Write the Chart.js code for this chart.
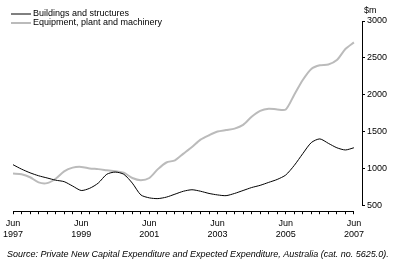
<!DOCTYPE html>
<html>
<head>
<meta charset="utf-8">
<script src="https://cdn.jsdelivr.net/npm/chart.js@4.4.1/dist/chart.umd.min.js"></script>
<style>
  html, body { margin: 0; padding: 0; background: #fff; }
</style>
</head>
<body>
<canvas id="chart" width="397" height="265"></canvas>
<script>
// quarterly, Jun 1997 .. Jun 2007 (index 0..40), $m
const buildings = [1050, 990, 940, 900, 870, 840, 820, 760, 700, 730, 800, 920, 950, 920, 800, 640,
    600, 590, 610, 650, 690, 710, 690, 660, 640, 630, 660, 700, 740, 770, 810, 850,
    910, 1040, 1200, 1350, 1400, 1340, 1280, 1250, 1280];

const equipment = [930, 920, 880, 810, 800, 860, 960, 1010, 1020, 1000, 990, 975, 960, 940, 870, 840,
    870, 990, 1080, 1110, 1200, 1290, 1390, 1450, 1500, 1520, 1540, 1590, 1700, 1780, 1810, 1800,
    1800, 2000, 2200, 2350, 2400, 2410, 2470, 2620, 2710];

const yTicks = [500, 1000, 1500, 2000, 2500, 3000];
const firstYear = 1997;

const seriesNames = ['Buildings and structures', 'Equipment, plant and machinery'];
const seriesData = [buildings, equipment];
const seriesColors = ['#000000', '#bbbbbb'];
const seriesWidths = [1, 2];

const FONT = 'Liberation Sans, Arial, sans-serif';

// legend, "$m" and the two axis lines (they don't meet in the original)
const extras = {
    id: 'extras',
    afterDraw(chart) {
        const ctx = chart.ctx;
        const xs = chart.scales.x, ys = chart.scales.y;
        ctx.save();
        ctx.font = '9px ' + FONT;
        ctx.textBaseline = 'middle';
        ctx.fillStyle = '#000';
        seriesNames.forEach((name, i) => {
            const y = 14 + i * 9;
            ctx.strokeStyle = seriesColors[i];
            ctx.lineWidth = seriesWidths[i];
            ctx.beginPath();
            ctx.moveTo(11, y);
            ctx.lineTo(31, y);
            ctx.stroke();
            ctx.fillText(name, 33, y);
        });
        ctx.fillText('$m', ys.left + 2, ys.getPixelForValue(3000) - 10);

        ctx.strokeStyle = '#000';
        ctx.lineWidth = 1;
        ctx.beginPath();
        const ax = Math.round(ys.left) + 0.5;
        ctx.moveTo(ax, ys.getPixelForValue(3000));
        ctx.lineTo(ax, ys.getPixelForValue(500));
        const ay = Math.round(xs.top) + 0.5;
        ctx.moveTo(xs.getPixelForValue(0), ay);
        ctx.lineTo(xs.getPixelForValue(buildings.length - 1), ay);
        ctx.stroke();
        ctx.restore();
    }
};

new Chart(document.getElementById('chart'), {
    type: 'line',
    data: {
        datasets: seriesNames.map((name, i) => ({
            label: name,
            data: seriesData[i].map((v, q) => ({ x: q, y: v })),
            borderColor: seriesColors[i],
            backgroundColor: seriesColors[i],
            borderWidth: seriesWidths[i],
            pointRadius: 0,
            tension: 0.25,
            fill: false
        }))
    },
    options: {
        responsive: false,
        animation: false,
        layout: { padding: { top: 21, left: 7, right: 0, bottom: 5 } },
        plugins: {
            legend: { display: false },
            tooltip: { enabled: false },
            subtitle: {
                display: true,
                position: 'bottom',
                align: 'start',
                text: 'Source: Private New Capital Expenditure and Expected Expenditure, Australia (cat. no. 5625.0).',
                color: '#000',
                font: { family: FONT, size: 9, style: 'italic' },
                padding: { top: 0, bottom: 0 }
            }
        },
        scales: {
            x: {
                type: 'linear',
                min: 0,
                max: 40.95,
                afterBuildTicks: s => { s.ticks = buildings.map((v, q) => ({ value: q })); },
                afterFit: s => { s.height = 38; },
                grid: { display: true, drawOnChartArea: false, drawTicks: true, tickLength: 3, color: '#000' },
                border: { display: false },
                ticks: {
                    autoSkip: false,
                    maxRotation: 0,
                    color: '#000',
                    padding: 3,
                    font: { family: FONT, size: 9, lineHeight: 1.3 },
                    callback: v => v % 8 === 0 ? ['Jun', String(firstYear + v / 4)] : ''
                }
            },
            y: {
                position: 'right',
                min: 419,
                max: 3000,
                afterFit: s => { s.width = 35; },
                afterBuildTicks: s => { s.ticks = yTicks.map(v => ({ value: v })); },
                grid: { display: true, drawOnChartArea: false, drawTicks: true, tickLength: 3, color: '#000' },
                border: { display: false },
                ticks: { color: '#000', padding: 2, font: { family: FONT, size: 9 }, callback: v => String(v) }
            }
        }
    },
    plugins: [extras]
});
</script>
</body>
</html>
